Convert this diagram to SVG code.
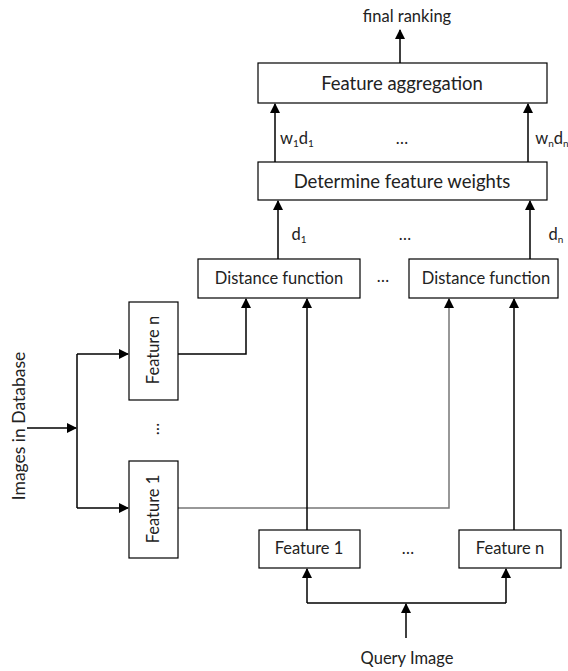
<svg xmlns="http://www.w3.org/2000/svg" width="568" height="671" viewBox="0 0 568 671">
<defs>
<style>
.box{fill:#fff;stroke:#000;stroke-width:1.2}
.t{font-family:Lato,"Open Sans","Liberation Sans",sans-serif;fill:#222;text-anchor:middle;font-size:16.5px}
.b{font-size:18.5px}
.s{font-size:10px}
.c{fill:none;stroke:#000;stroke-width:1.5}
.g{fill:none;stroke:#777;stroke-width:1.5}
</style>
<marker id="ah" markerWidth="10" markerHeight="10" refX="9" refY="5" orient="auto" markerUnits="userSpaceOnUse" viewBox="0 0 10 10">
<path d="M0,0 L10,5 L0,10 Z" fill="#000"/>
</marker>
</defs>
<rect width="568" height="671" fill="#fff"/>
<g id="connectors">
<path class="c" d="M400,63 V30" marker-end="url(#ah)"/>
<path class="c" d="M275,162 V104" marker-end="url(#ah)"/>
<path class="c" d="M528,162 V104" marker-end="url(#ah)"/>
<path class="c" d="M278,259 V201" marker-end="url(#ah)"/>
<path class="c" d="M530,259 V201" marker-end="url(#ah)"/>
<path class="c" d="M27,428 H76" marker-end="url(#ah)"/>
<path class="c" d="M77,354 V508"/>
<path class="c" d="M77,354 H128" marker-end="url(#ah)"/>
<path class="c" d="M77,508 H128" marker-end="url(#ah)"/>
<path class="c" d="M178,354 H246 V299" marker-end="url(#ah)"/>
<path class="g" d="M178,508 H449 V299" marker-end="url(#ah)"/>
<path class="c" d="M307,530 V299" marker-end="url(#ah)"/>
<path class="c" d="M514,530 V299" marker-end="url(#ah)"/>
<path class="c" d="M307,603 H506"/>
<path class="c" d="M307,603 V569" marker-end="url(#ah)"/>
<path class="c" d="M506,603 V569" marker-end="url(#ah)"/>
<path class="c" d="M406,638 V604" marker-end="url(#ah)"/>
</g>
<g id="final-ranking"><text class="t" x="407" y="22">final ranking</text></g>
<g id="feature-aggregation">
<rect class="box" x="258" y="63" width="289" height="40"/>
<text class="t b" x="402" y="90">Feature aggregation</text>
</g>
<g id="labels-w">
<text class="t" x="297" y="144">w<tspan class="s" dy="3">1</tspan><tspan dy="-3">d</tspan><tspan class="s" dy="3">1</tspan></text>
<text class="t" x="402" y="144">…</text>
<text class="t" x="552" y="144">w<tspan class="s" dy="3">n</tspan><tspan dy="-3">d</tspan><tspan class="s" dy="3">n</tspan></text>
</g>
<g id="determine-weights">
<rect class="box" x="258" y="162" width="289" height="38"/>
<text class="t b" x="402" y="188">Determine feature weights</text>
</g>
<g id="labels-d">
<text class="t" x="299" y="240">d<tspan class="s" dy="3">1</tspan></text>
<text class="t" x="405" y="240">…</text>
<text class="t" x="556" y="240">d<tspan class="s" dy="3">n</tspan></text>
<text class="t" x="383" y="282">…</text>
</g>
<g id="distance-1">
<rect class="box" x="198" y="259" width="162" height="39"/>
<text class="t" x="279" y="284">Distance function</text>
</g>
<g id="distance-n">
<rect class="box" x="409" y="259" width="149" height="39"/>
<text class="t" x="486" y="284">Distance function</text>
</g>
<g id="images-in-database">
<text class="t" style="font-size:17.5px" transform="translate(25,426) rotate(-90)">Images in Database</text>
</g>
<g id="db-feature-n">
<rect class="box" x="129" y="302" width="49" height="98"/>
<text class="t" transform="translate(159,350) rotate(-90)">Feature n</text>
</g>
<g id="db-dots"><text class="t" transform="translate(159,429) rotate(-90)">…</text></g>
<g id="db-feature-1">
<rect class="box" x="129" y="461" width="49" height="97"/>
<text class="t" transform="translate(159,509) rotate(-90)">Feature 1</text>
</g>
<g id="q-feature-1">
<rect class="box" x="259" y="530" width="101" height="38"/>
<text class="t" x="309" y="554">Feature 1</text>
</g>
<g id="q-dots"><text class="t" x="408" y="554">…</text></g>
<g id="q-feature-n">
<rect class="box" x="459" y="530" width="102" height="38"/>
<text class="t" x="510" y="554">Feature n</text>
</g>
<g id="query-image"><text class="t" x="407" y="664">Query Image</text></g>
</svg>
